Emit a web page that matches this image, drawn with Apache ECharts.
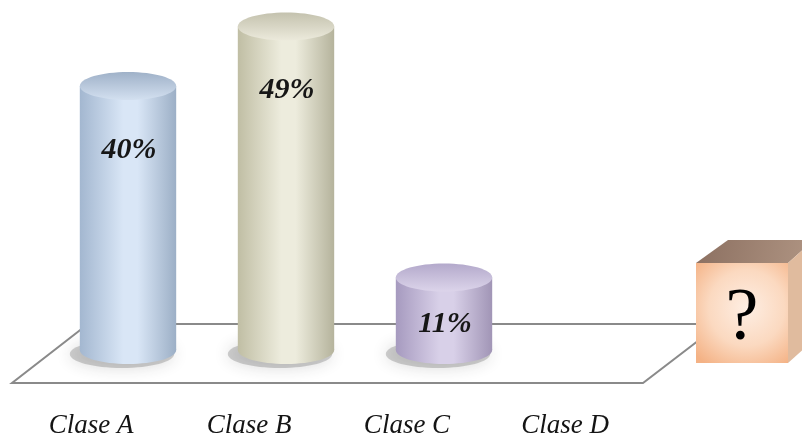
<!DOCTYPE html>
<html>
<head>
<meta charset="utf-8">
<script src="https://cdn.jsdelivr.net/npm/echarts@6/dist/echarts.min.js"></script>
<style>
  html, body { margin: 0; padding: 0; background: #fff; }
  #chart { width: 802px; height: 435px; }
</style>
</head>
<body>
<div id="chart"></div>
<script>
// chart data
const categories = ['Clase A', 'Clase B', 'Clase C', 'Clase D'];
const values = [40, 49, 11, null];
const pctLabels = ['40%', '49%', '11%', ''];

// cylinder colours per bar: [left, light, right, topBack, topFront]
const palette = [
  ['#a3b7d0', '#d9e6f6', '#9cafc6', '#9fb1c8', '#d3e0f0'],
  ['#c0bea4', '#edecdd', '#b5b39c', '#c4c2ae', '#eceadc'],
  ['#a69abf', '#d8d0e8', '#a195b6', '#b3a9cb', '#dcd4ea']
];

function hGrad(c) {
  return new echarts.graphic.LinearGradient(0, 0, 1, 0, [
    { offset: 0, color: c[0] },
    { offset: 0.45, color: c[1] },
    { offset: 0.6, color: c[1] },
    { offset: 1, color: c[2] }
  ]);
}

function renderCylinder(params, api) {
  const idx = api.value(0);
  const v = api.value(1);
  const top = api.coord([idx, v]);
  const base = api.coord([idx, 0]);
  const rx = api.size([1, 0])[0] * 0.305;
  const ry = 14;
  const c = palette[idx];
  const labelY = top[1] + Math.min(64, (base[1] - top[1]) * 0.65);
  return {
    type: 'group',
    children: [
      {
        type: 'ellipse',
        shape: { cx: base[0] - 6, cy: base[1] + 4, rx: rx + 4, ry: ry },
        style: { fill: 'rgba(90,90,90,0.28)', shadowBlur: 16, shadowColor: 'rgba(40,40,40,0.6)' }
      },
      {
        type: 'ellipse',
        shape: { cx: base[0], cy: base[1], rx: rx, ry: ry },
        style: { fill: hGrad(c) }
      },
      {
        type: 'rect',
        shape: { x: base[0] - rx, y: top[1], width: rx * 2, height: base[1] - top[1] },
        style: { fill: hGrad(c) }
      },
      {
        type: 'ellipse',
        shape: { cx: top[0], cy: top[1], rx: rx, ry: ry },
        style: {
          fill: new echarts.graphic.LinearGradient(0, 0, 0, 1, [
            { offset: 0, color: c[3] },
            { offset: 1, color: c[4] }
          ])
        }
      },
      {
        type: 'text',
        x: top[0] + 1,
        y: labelY,
        style: {
          text: pctLabels[idx],
          fontFamily: 'Liberation Serif',
          fontStyle: 'italic',
          fontWeight: 'bold',
          fontSize: 30,
          fill: '#161616',
          align: 'center',
          verticalAlign: 'middle'
        }
      }
    ]
  };
}

const chart = echarts.init(document.getElementById('chart'));
const option = {
  backgroundColor: '#fff',
  animation: false,
  grid: { left: 49, right: 121, top: 20, bottom: 85, outerBoundsMode: 'none', containLabel: false },
  xAxis: {
    type: 'category',
    data: categories,
    axisLine: { show: false },
    axisTick: { show: false },
    axisLabel: {
      interval: 0,
      hideOverlap: false,
      showMinLabel: true,
      showMaxLabel: true,
      margin: 62,
      padding: [0, 74, 0, 0],
      fontFamily: 'Liberation Serif',
      fontStyle: 'italic',
      fontSize: 27,
      lineHeight: 27,
      color: '#141414'
    }
  },
  yAxis: { type: 'value', min: 0, max: 50, show: false },
  graphic: [
    {
      type: 'polygon',
      z: 0,
      shape: { points: [[12, 383], [643, 383], [720, 324], [88, 324]] },
      style: { fill: '#fff', stroke: '#8a8a8a', lineWidth: 2 }
    },
    {
      type: 'group',
      z: 10,
      children: [
        {
          type: 'polygon',
          shape: { points: [[696, 263], [788, 263], [814, 240], [728, 240]] },
          style: {
            fill: new echarts.graphic.LinearGradient(0, 0, 1, 1, [
              { offset: 0, color: '#8c7061' },
              { offset: 1, color: '#b09583' }
            ])
          }
        },
        {
          type: 'polygon',
          shape: { points: [[788, 263], [814, 240], [814, 340], [788, 363]] },
          style: { fill: '#e0bb9e' }
        },
        {
          type: 'rect',
          shape: { x: 696, y: 263, width: 92, height: 100 },
          style: {
            fill: new echarts.graphic.RadialGradient(0.55, 0.45, 0.75, [
              { offset: 0, color: '#feeee3' },
              { offset: 0.55, color: '#fbd9c0' },
              { offset: 1, color: '#f4b285' }
            ])
          }
        },
        {
          type: 'text',
          x: 742,
          y: 320,
          style: {
            text: '?',
            fontFamily: 'Liberation Serif',
            fontSize: 74,
            fill: '#000',
            align: 'center',
            verticalAlign: 'middle'
          }
        }
      ]
    }
  ],
  series: [
    {
      type: 'custom',
      z: 5,
      renderItem: renderCylinder,
      data: values.map((v, i) => (v == null ? [i, '-'] : [i, v])).filter(d => d[1] !== '-')
    }
  ]
};
chart.setOption(option);
</script>
</body>
</html>
